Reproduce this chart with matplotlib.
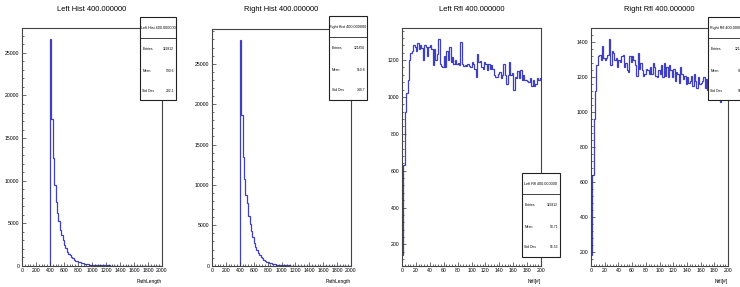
import matplotlib
matplotlib.use("Agg")
import matplotlib.pyplot as plt
import numpy as np
from matplotlib.patches import Rectangle
from matplotlib.lines import Line2D
from matplotlib.ticker import MultipleLocator

plt.rcParams["font.family"] = ["Liberation Sans", "DejaVu Sans"]

W, H = 740, 287
LINE = "#3f3fc4"

# Path length histograms: bins of 20 from 400 to 2000
left_hist = [26600, 17200, 12600, 9450, 7450, 6200, 5300, 4250, 3600, 3000,
             2450, 2050, 1650, 1400, 1200, 1000, 850, 720, 610, 520,
             440, 380, 320, 270, 230, 200, 170, 145, 125, 105,
             90, 80, 72, 64, 58, 52, 47, 42, 38, 34,
             31, 28, 25, 23, 21, 19, 17, 15, 14, 13,
             12, 11, 10, 9, 8, 8, 7, 7, 6, 6,
             5, 5, 5, 4, 4, 4, 3, 3, 3, 3,
             2, 2, 2, 2, 2, 2, 1, 1, 1, 1]
right_hist = [27900, 18700, 13500, 10700, 8800, 7700, 6200, 5100, 4250, 3550,
              2850, 2350, 1950, 1620, 1330, 1100, 900, 740, 610, 500,
              410, 340, 280, 230, 190, 160, 130, 110, 90, 75,
              62, 52, 44, 37, 31, 26, 22, 19, 16, 14,
              12, 10, 9, 8, 7, 6, 5, 5, 4, 4,
              3, 3, 3, 2, 2, 2, 2, 2, 1, 1,
              1, 1, 1, 1, 1, 1, 1, 1, 1, 1,
              0, 0, 0, 0, 0, 0, 0, 0, 0, 0]

# Reflection counts: bins of 2 from 0 to 200
left_rfl = [143, 630, 920, 1020, 1090, 1200, 1240, 1250, 1280, 1270,
            1250, 1290, 1260, 1280, 1265, 1200, 1280, 1270, 1220, 1270,
            1280, 1260, 1175, 1260, 1200, 1230, 1315, 1180, 1170, 1160,
            1220, 1160, 1250, 1200, 1270, 1190, 1215, 1180, 1200, 1180,
            1185, 1175, 1300, 1180, 1170, 1175, 1165, 1180, 1170, 1160,
            1190, 1180, 1150, 1110, 1234, 1190, 1195, 1160, 1150, 1190,
            1180, 1145, 1180, 1150, 1175, 1150, 1120, 1110, 1110, 1125,
            1135, 1100, 1120, 1180, 1120, 1070, 1120, 1190, 1120, 1130,
            1040, 1110, 1100, 1140, 1100, 1145, 1090, 1120, 1090, 1090,
            1085, 1080, 1100, 1060, 1090, 1060, 1070, 1100, 1090, 1100]
right_rfl = [186, 640, 960, 1120, 1270, 1320, 1330, 1300, 1380, 1310,
             1300, 1310, 1330, 1420, 1270, 1350, 1340, 1300, 1310, 1260,
             1300, 1290, 1320, 1330, 1260, 1280, 1240, 1230, 1320, 1290,
             1320, 1300, 1270, 1210, 1340, 1250, 1280, 1240, 1210, 1220,
             1250, 1240, 1220, 1260, 1220, 1280, 1260, 1210, 1200, 1240,
             1220, 1270, 1200, 1280, 1210, 1260, 1200, 1270, 1240, 1200,
             1250, 1180, 1230, 1220, 1170, 1260, 1220, 1190, 1210, 1160,
             1200, 1170, 1180, 1210, 1150, 1220, 1180, 1140, 1200, 1160,
             1170, 1180, 1200, 1140, 1190, 1130, 1160, 1180, 1120, 1150,
             1110, 1140, 1090, 1160, 1060, 1120, 1130, 1100, 1120, 1150]

titles = ["Left Hist 400.000000", "Right Hist 400.000000",
          "Left Rfl 400.000000", "Right Rfl 400.000000"]
xlabels = ["PathLength", "PathLength", "Nrfl[#]", "Nrfl[#]"]
entries = ["119812", "121856", "119812", "121856"]
means = ["530.6", "510.8", "98.71", "98.35"]
stddevs = ["202.1", "149.7", "56.53", "56.51"]


def px_axes(fig, left, top, right, bottom):
    return fig.add_axes([left / W, 1 - bottom / H, (right - left) / W, (bottom - top) / H])


def stats_box(fig, left, top, right, bottom, name, ent, mean, sd):
    h = bottom - top
    fig.add_artist(Rectangle((left / W, 1 - bottom / H), (right - left) / W, h / H,
                             transform=fig.transFigure, facecolor="white",
                             edgecolor="#222222", linewidth=0.8, zorder=10))
    fig.add_artist(Line2D([left / W, right / W], [1 - (top + 21) / H] * 2,
                          transform=fig.transFigure, color="#222222",
                          linewidth=0.6, zorder=11))
    fig.text((left + right) / 2 / W, 1 - (top + 11) / H, name, fontsize=2.7,
             ha="center", va="center", zorder=12)
    for dy, lab, val in [(32, "Entries", ent), (54, "Mean", mean), (74, "Std Dev", sd)]:
        fig.text((left + 2.5) / W, 1 - (top + dy) / H, lab, fontsize=2.4,
                 ha="left", va="center", zorder=12)
        fig.text((right - 2) / W, 1 - (top + dy) / H, val, fontsize=2.4,
                 ha="right", va="center", zorder=12)


def style_axes(ax, xmaj, xmin, ymaj, ymin):
    ax.xaxis.set_major_locator(MultipleLocator(xmaj))
    ax.xaxis.set_minor_locator(MultipleLocator(xmin))
    ax.yaxis.set_major_locator(MultipleLocator(ymaj))
    ax.yaxis.set_minor_locator(MultipleLocator(ymin))
    ax.tick_params(which="both", direction="in", labelsize=3.7, pad=2,
                   color="#333333", width=0.5)
    ax.tick_params(which="major", length=3.2)
    ax.tick_params(which="minor", length=1.6)
    for sp in ax.spines.values():
        sp.set_color("#444444")
        sp.set_linewidth(0.8)


fig = plt.figure(figsize=(W / 100, H / 100), dpi=100)
fig.patch.set_facecolor("white")

frames = [(22, 28, 162, 265.7), (212, 29, 351, 265.7),
          (402, 28, 541, 265.7), (591, 28, 728, 265.7)]
boxes = [(140, 17, 176, 100), (329, 16, 367, 100),
         (522, 173, 560, 257), (708, 17, 748, 100)]
series = [left_hist, right_hist, left_rfl, right_rfl]

for i in range(4):
    l, t, r, b = frames[i]
    ax = px_axes(fig, l, t, r, b)
    vals = series[i]
    if i < 2:
        edges = np.arange(400, 2001, 20)
        ax.stairs(vals, edges, baseline=0, color=LINE, linewidth=0.9)
        ax.set_xlim(0, 2000)
        ax.set_ylim(0, max(vals) * 1.05)
        style_axes(ax, 200, 40, 5000, 1000)
    else:
        edges = np.arange(0, 201, 2)
        ax.stairs(vals, edges, baseline=None, color=LINE, linewidth=0.9)
        span = max(vals) - min(vals)
        ax.set_xlim(0, 200)
        ax.set_ylim(min(vals) - 0.05 * span, max(vals) + 0.05 * span)
        style_axes(ax, 20, 4, 200, 40)
    ax.set_title(titles[i], fontsize=5.4, pad=(t - 8) * 0.72 - 2)
    fig.text(r / W, 1 - 281 / H, xlabels[i], fontsize=3.5, ha="right", va="center")
    stats_box(fig, *boxes[i], titles[i], entries[i], means[i], stddevs[i])

fig.savefig("out.png", dpi=100)
